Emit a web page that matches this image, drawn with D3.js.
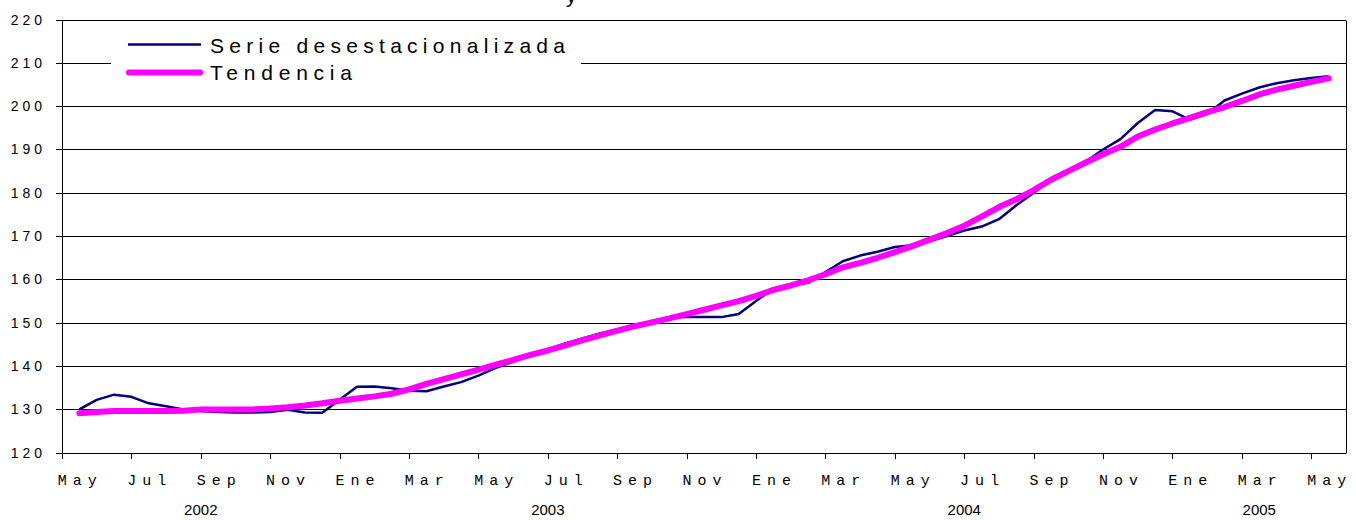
<!DOCTYPE html>
<html>
<head>
<meta charset="utf-8">
<script src="https://cdn.jsdelivr.net/npm/d3@7"></script>
<style>
  body { margin: 0; background: #fff; }
  svg { display: block; }
  .ylab { font-family: "Liberation Sans", Arial, sans-serif; font-size: 14px; letter-spacing: 4px; }
  .xlab { font-family: "Liberation Mono", "Courier New", monospace; font-size: 15px; letter-spacing: 6px; }
  .year { font-family: "Liberation Sans", Arial, sans-serif; font-size: 15px; }
  .leg  { font-family: "Liberation Sans", Arial, sans-serif; font-size: 21px; }
</style>
</head>
<body>
<svg id="chart" width="1356" height="520"></svg>
<script>
// half-month periods, May 2002 .. May 2005
const monthLabels = ['May','Jul','Sep','Nov','Ene','Mar','May','Jul','Sep','Nov',
                     'Ene','Mar','May','Jul','Sep','Nov','Ene','Mar','May'];
const years = ['2002','2003','2004','2005'];
const yearFirstPeriod = [0, 16, 40, 64];
const yTicks = [120,130,140,150,160,170,180,190,200,210,220];

const serie = [
  130.0,132.2,133.4,132.9,131.4,130.7,130.0,129.6,129.4,129.3,
  129.3,129.4,129.9,129.3,129.2,132.2,135.2,135.3,134.9,134.3,
  134.2,135.3,136.3,137.8,139.6,141.0,142.5,143.8,145.2,146.4,
  147.5,148.4,149.2,150.4,151.2,151.3,151.3,151.3,152.0,155.0,
  157.9,158.6,159.2,161.7,164.2,165.5,166.4,167.5,167.9,168.8,
  170.0,171.3,172.2,173.9,177.1,180.0,183.0,185.1,187.2,190.0,
  192.4,196.1,199.1,198.8,196.9,198.2,201.3,202.9,204.3,205.3,
  206.0,206.5,206.9
];
const tendencia = [
  129.1,129.4,129.6,129.6,129.6,129.6,129.7,130.0,130.0,130.0,
  130.0,130.2,130.5,130.9,131.4,132.0,132.5,133.0,133.6,134.6,
  135.9,137.0,138.1,139.2,140.3,141.4,142.6,143.6,144.8,146.0,
  147.1,148.2,149.2,150.1,151.0,152.0,153.0,154.0,155.0,156.2,
  157.6,158.6,159.8,161.2,162.8,163.8,165.0,166.3,167.7,169.2,
  170.7,172.4,174.5,176.7,178.5,180.6,183.0,185.0,187.0,188.9,
  190.6,193.0,194.6,196.0,197.3,198.6,199.8,201.2,202.7,203.8,
  204.7,205.6,206.4
];

const svg = d3.select('#chart');
const L = 62, R = 1346, T = 19.5, B = 452.7;

const x = d3.scaleLinear().domain([-1, 73]).range([L, R]);
const y = d3.scaleLinear().domain([120, 220]).range([B, T]);

// gridlines
svg.append('g')
  .selectAll('line')
  .data(yTicks)
  .join('line')
    .attr('x1', L).attr('x2', R)
    .attr('y1', d => Math.round(y(d)) + 0.5)
    .attr('y2', d => Math.round(y(d)) + 0.5)
    .attr('stroke', '#000').attr('stroke-width', 1);

// left / right borders
svg.append('line').attr('x1', L + 0.5).attr('x2', L + 0.5)
  .attr('y1', Math.round(y(220)) + 0.5).attr('y2', Math.round(B) + 0.5).attr('stroke', '#000');
svg.append('line').attr('x1', R + 0.5).attr('x2', R + 0.5)
  .attr('y1', Math.round(y(220)) + 0.5).attr('y2', Math.round(B) + 0.5).attr('stroke', '#000');

// y ticks + labels
svg.append('g').selectAll('line').data(yTicks).join('line')
  .attr('x1', L - 6).attr('x2', L)
  .attr('y1', d => Math.round(y(d)) + 0.5).attr('y2', d => Math.round(y(d)) + 0.5)
  .attr('stroke', '#000');
svg.append('g').selectAll('text').data(yTicks).join('text')
  .attr('class', 'ylab')
  .attr('x', 46).attr('y', d => y(d) + 5)
  .attr('text-anchor', 'end')
  .text(d => d);

// x ticks
const tickIdx = d3.range(monthLabels.length).map(j => 4 * j - 1);
svg.append('g').selectAll('line').data(tickIdx).join('line')
  .attr('x1', d => Math.round(x(d)) + 0.5).attr('x2', d => Math.round(x(d)) + 0.5)
  .attr('y1', Math.round(B)).attr('y2', Math.round(B) + 6)
  .attr('stroke', '#000');

svg.append('g').selectAll('text').data(monthLabels).join('text')
  .attr('class', 'xlab')
  .attr('x', (d, j) => x(4 * j) + 1)
  .attr('y', 485)
  .attr('text-anchor', 'middle')
  .text(d => d);

svg.append('g').selectAll('text').data(years).join('text')
  .attr('class', 'year')
  .attr('x', (d, i) => {
    const x0 = x(yearFirstPeriod[i] - 1);
    const x1 = i < years.length - 1 ? x(yearFirstPeriod[i + 1] - 1) : R;
    return (x0 + x1) / 2;
  })
  .attr('y', 520 - 5)
  .attr('text-anchor', 'middle')
  .text(d => d);

// series
const line = d3.line().x((d, i) => x(i)).y(d => y(d));

svg.append('path').datum(serie)
  .attr('d', line)
  .attr('fill', 'none').attr('stroke', '#000080')
  .attr('stroke-width', 2.5).attr('stroke-linejoin', 'round');

svg.append('path').datum(tendencia)
  .attr('d', line)
  .attr('fill', 'none').attr('stroke', '#ff00ff')
  .attr('stroke-width', 6).attr('stroke-linejoin', 'round').attr('stroke-linecap', 'round');

// legend
const leg = svg.append('g');
leg.append('rect').attr('x', 111).attr('y', 30).attr('width', 470).attr('height', 56).attr('fill', '#fff');
leg.append('line').attr('x1', 128).attr('x2', 201).attr('y1', 44.5).attr('y2', 44.5)
  .attr('stroke', '#000080').attr('stroke-width', 2.5);
leg.append('line').attr('x1', 129).attr('x2', 200).attr('y1', 72.5).attr('y2', 72.5)
  .attr('stroke', '#ff00ff').attr('stroke-width', 6).attr('stroke-linecap', 'round');
leg.append('text').attr('class', 'leg').attr('x', 210).attr('y', 53)
  .attr('textLength', 355).attr('lengthAdjust', 'spacing')
  .text('Serie desestacionalizada');
leg.append('text').attr('class', 'leg').attr('x', 210).attr('y', 80)
  .attr('textLength', 142).attr('lengthAdjust', 'spacing')
  .text('Tendencia');

// cut-off title fragment at the top edge
svg.append('text').attr('class', 'leg').attr('x', 566).attr('y', 3).text('y');
</script>
</body>
</html>
